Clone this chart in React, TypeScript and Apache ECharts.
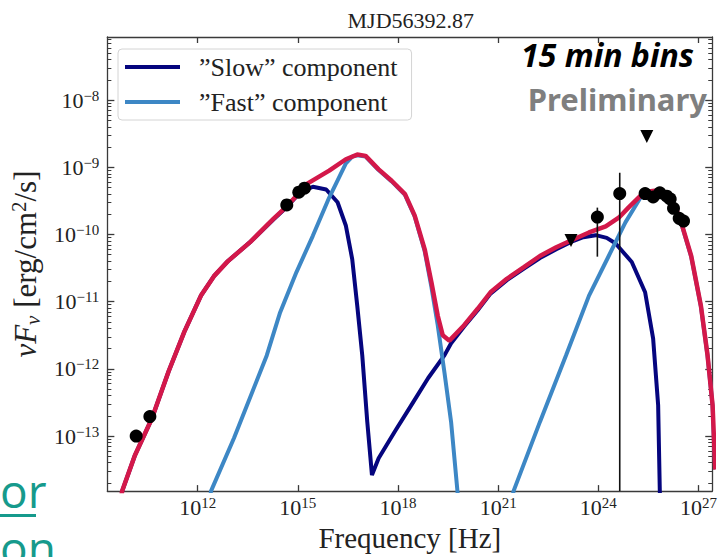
import React, { useEffect, useRef } from 'react';
import * as echarts from 'echarts';

// All values are log10 exponents: [log10(nu / Hz), log10(nuF_nu / erg cm^-2 s^-1)]
const totalSED: number[][] = [
  [9.70, -13.95], [9.74, -13.82], [10.12, -13.29], [10.63, -12.74], [11.13, -12.04],
  [11.60, -11.45], [12.10, -10.91], [12.49, -10.62], [12.90, -10.40], [13.58, -10.11],
  [14.26, -9.77], [14.67, -9.58], [15.06, -9.37], [15.26, -9.25], [15.94, -9.05],
  [16.44, -8.88], [16.78, -8.81], [17.03, -8.83], [17.42, -9.03], [17.81, -9.20],
  [18.21, -9.40], [18.50, -9.72], [18.80, -10.22], [19.00, -10.71], [19.19, -11.21],
  [19.34, -11.50], [19.54, -11.58], [19.98, -11.35], [20.38, -11.11], [20.77, -10.86],
  [21.26, -10.66], [21.76, -10.49], [22.25, -10.32], [22.74, -10.19], [23.18, -10.09],
  [23.72, -9.97], [24.22, -9.88], [24.61, -9.75], [24.90, -9.60], [25.25, -9.43],
  [25.50, -9.36], [25.69, -9.35], [25.90, -9.37], [26.09, -9.43], [26.30, -9.58],
  [26.48, -9.82], [26.78, -10.32], [27.07, -11.06], [27.27, -11.80], [27.42, -12.54],
  [27.50, -13.50],
];

const slowComponent: number[][] = [
  [9.70, -13.95], [9.74, -13.82], [10.12, -13.29], [10.63, -12.74], [11.13, -12.04],
  [11.60, -11.45], [12.10, -10.91], [12.49, -10.62], [12.90, -10.40], [13.58, -10.11],
  [14.26, -9.78], [14.67, -9.59], [15.06, -9.38], [15.45, -9.29], [15.85, -9.33],
  [16.19, -9.52], [16.44, -9.87], [16.63, -10.37], [16.78, -11.06], [16.93, -11.80],
  [17.08, -12.79], [17.22, -13.58], [17.42, -13.33], [17.91, -12.93], [18.40, -12.54],
  [18.90, -12.14], [19.39, -11.80], [19.59, -11.62], [19.98, -11.37], [20.38, -11.13],
  [20.77, -10.88], [21.26, -10.68], [21.76, -10.51], [22.25, -10.35], [22.74, -10.22],
  [23.18, -10.11], [23.55, -10.04], [23.92, -10.01], [24.25, -10.05], [24.51, -10.13],
  [25.00, -10.41], [25.40, -10.86], [25.64, -11.55], [25.79, -12.54], [25.84, -13.82],
  [25.86, -14.20],
];

const fastSynchrotron: number[][] = [
  [12.35, -14.00], [12.40, -13.82], [13.09, -13.03], [14.07, -11.80], [14.47, -11.16],
  [14.96, -10.56], [15.45, -10.02], [15.94, -9.45], [16.44, -8.94], [16.63, -8.84],
  [16.78, -8.82], [17.03, -8.84], [17.42, -9.04], [17.81, -9.21], [18.21, -9.41],
  [18.50, -9.73], [18.80, -10.25], [19.00, -10.78], [19.19, -11.35], [19.39, -12.05],
  [19.59, -12.79], [19.78, -13.82], [19.82, -14.10],
];

const fastCompton: number[][] = [
  [21.40, -14.00], [21.46, -13.82], [22.25, -12.79], [23.03, -11.80], [23.72, -10.91],
  [24.31, -10.32], [24.81, -9.82], [25.25, -9.46], [25.50, -9.37], [25.69, -9.36],
  [25.90, -9.38], [26.09, -9.44], [26.30, -9.59], [26.48, -9.83], [26.78, -10.33],
  [27.07, -11.07], [27.27, -11.81], [27.42, -12.55], [27.50, -13.50],
];

const observedPoints: number[][] = [
  [10.16, -13.00], [10.57, -12.71], [14.67, -9.56], [15.03, -9.37], [15.20, -9.31],
  [23.97, -9.74], [24.64, -9.39], [25.40, -9.39], [25.64, -9.44], [25.84, -9.38],
  [26.05, -9.43], [26.15, -9.47], [26.25, -9.61], [26.42, -9.76], [26.55, -9.80],
];

const upperLimits: number[][] = [
  [23.18, -10.09], [25.45, -8.54],
];

// [log10 nu, upper end, lower end]
const errorBars: number[][] = [
  [23.97, -9.60, -10.33],
  [24.64, -9.08, -14.50],
];

const xTickExps = [12, 15, 18, 21, 24, 27];
const yTickExps = [-13, -12, -11, -10, -9, -8];
const minorMantissas = [2, 3, 4, 5, 6, 7, 8, 9];
const X_RANGE = [9.297, 27.41];
const Y_RANGE = [-13.82, -7.06];

const titleText = 'MJD56392.87';
const slowName = '\u201DSlow\u201D component';
const fastName = '\u201DFast\u201D component';

const SERIF = "'Liberation Serif', 'DejaVu Serif', serif";
const RED = '#d3184a';
const NAVY = '#05057e';
const BLUE = '#3d87c5';
const AXIS = '#3a3a3a';
const TEAL = '#169a8c';

const yMinorTicks: number[] = [];
for (let n = -14; n <= -8; n++) {
  for (const k of minorMantissas) {
    const v = n + Math.log10(k);
    if (v > Y_RANGE[0] && v < Y_RANGE[1]) yMinorTicks.push(v);
  }
}

const tickRich = {
  b: { fontFamily: SERIF, fontSize: 22, color: '#222', lineHeight: 24 },
  s: { fontFamily: SERIF, fontSize: 15, color: '#222', verticalAlign: 'top', lineHeight: 15 },
};

const lineStyle = { color: AXIS, width: 1.3 };

function buildOption() {
  const xCommon = {
    type: 'value', min: X_RANGE[0], max: X_RANGE[1],
    splitLine: { show: false },
    axisLine: { show: true, onZero: false, lineStyle },
  };
  const yCommon = {
    type: 'value', min: Y_RANGE[0], max: Y_RANGE[1],
    splitLine: { show: false },
  };
  return {
    animation: false,
    backgroundColor: '#ffffff',
    grid: { left: 105, right: 3, top: 37, bottom: 64, containLabel: false },
    xAxis: [
      {
        ...xCommon,
        position: 'bottom',
        axisTick: { show: true, inside: true, length: 6, customValues: xTickExps, lineStyle },
        axisLabel: {
          show: true, customValues: xTickExps, margin: 4,
          formatter: (v: number) => `{b|10}{s|${Math.round(v)}}`,
          rich: tickRich,
        },
        name: 'Frequency [Hz]', nameLocation: 'middle', nameGap: 30,
        nameTextStyle: { fontFamily: SERIF, fontSize: 29, color: '#222' },
      },
      {
        ...xCommon,
        position: 'top',
        axisTick: { show: true, inside: true, length: 6, customValues: xTickExps, lineStyle },
        axisLabel: { show: false },
      },
    ],
    yAxis: [
      {
        ...yCommon,
        position: 'left',
        axisLine: { show: true, onZero: false, lineStyle },
        axisTick: { show: true, inside: true, length: 7, customValues: yTickExps, lineStyle },
        axisLabel: {
          show: true, customValues: yTickExps, margin: 8,
          formatter: (v: number) => `{b|10}{s|\u2212${Math.round(-v)}}`,
          rich: tickRich,
        },
        name: '{i|\u03BDF}{sub|\u03BD} {r|[erg/cm}{sup|2}{r|/s]}',
        nameLocation: 'middle', nameGap: 54, nameRotate: 90,
        nameTextStyle: {
          fontFamily: SERIF, fontSize: 31, color: '#222',
          rich: {
            i: { fontFamily: SERIF, fontSize: 31, fontStyle: 'italic', color: '#222', lineHeight: 35 },
            sub: { fontFamily: SERIF, fontSize: 21, fontStyle: 'italic', color: '#222', verticalAlign: 'bottom', lineHeight: 21 },
            r: { fontFamily: SERIF, fontSize: 31, color: '#222', lineHeight: 35 },
            sup: { fontFamily: SERIF, fontSize: 21, color: '#222', verticalAlign: 'top', lineHeight: 21 },
          },
        },
      },
      {
        ...yCommon,
        position: 'left',
        axisLine: { show: false },
        axisTick: { show: true, inside: true, length: 4, customValues: yMinorTicks, lineStyle: { color: AXIS, width: 1 } },
        axisLabel: { show: false },
      },
      {
        ...yCommon,
        position: 'right',
        axisLine: { show: true, onZero: false, lineStyle },
        axisTick: { show: true, inside: true, length: 7, customValues: yTickExps, lineStyle },
        axisLabel: { show: false },
      },
      {
        ...yCommon,
        position: 'right',
        axisLine: { show: false },
        axisTick: { show: true, inside: true, length: 4, customValues: yMinorTicks, lineStyle: { color: AXIS, width: 1 } },
        axisLabel: { show: false },
      },
    ],
    legend: {
      data: [slowName, fastName],
      orient: 'vertical', left: 118, top: 49,
      icon: 'rect', itemWidth: 55, itemHeight: 4, itemGap: 9,
      padding: [5, 14, 5, 7],
      backgroundColor: '#ffffff', borderColor: '#d4d4d4', borderWidth: 1, borderRadius: 4,
      selectedMode: false,
      textStyle: { fontFamily: SERIF, fontSize: 26, color: '#222', padding: [0, 0, 0, 14] },
    },
    graphic: [
      { type: 'text', x: 410.8, y: 20.5, style: { text: titleText, font: `22px ${SERIF}`, fill: '#222', align: 'center', verticalAlign: 'middle', textAlign: 'center', textVerticalAlign: 'middle' } },
      { type: 'text', x: 694, y: 54, style: { text: '15 min bins', font: "italic bold 32px 'Noto Sans', sans-serif", fill: '#000', align: 'right', verticalAlign: 'middle', textAlign: 'right', textVerticalAlign: 'middle' } },
      { type: 'text', x: 707, y: 99, style: { text: 'Preliminary', font: "bold 31px 'Noto Sans', sans-serif", fill: '#7f7f7f', align: 'right', verticalAlign: 'middle', textAlign: 'right', textVerticalAlign: 'middle' } },
      { type: 'text', x: 0, y: 490, style: { text: 'or', font: "46px 'Open Sans', sans-serif", fill: TEAL, align: 'left', verticalAlign: 'middle', textAlign: 'left', textVerticalAlign: 'middle' } },
      { type: 'rect', shape: { x: 0, y: 514, width: 36, height: 3 }, style: { fill: TEAL } },
      { type: 'text', x: 0, y: 547, style: { text: 'on', font: "46px 'Open Sans', sans-serif", fill: TEAL, align: 'left', verticalAlign: 'middle', textAlign: 'left', textVerticalAlign: 'middle' } },
    ],
    series: [
      {
        type: 'line', name: slowName, data: slowComponent, xAxisIndex: 0, yAxisIndex: 0,
        symbol: 'none', showSymbol: false, color: NAVY, lineStyle: { color: NAVY, width: 4 }, z: 2, clip: true,
      },
      {
        type: 'line', name: fastName, data: fastSynchrotron, xAxisIndex: 0, yAxisIndex: 0,
        symbol: 'none', showSymbol: false, color: BLUE, lineStyle: { color: BLUE, width: 4 }, z: 3, clip: true,
      },
      {
        type: 'line', name: fastName, data: fastCompton, xAxisIndex: 0, yAxisIndex: 0,
        symbol: 'none', showSymbol: false, color: BLUE, lineStyle: { color: BLUE, width: 4 }, z: 3, clip: true,
      },
      {
        type: 'line', name: 'Total', data: totalSED, xAxisIndex: 0, yAxisIndex: 0,
        symbol: 'none', showSymbol: false, color: RED, lineStyle: { color: RED, width: 4.5 }, z: 4, clip: true,
      },
      {
        type: 'custom', name: 'errors', data: errorBars, xAxisIndex: 0, yAxisIndex: 0, z: 5, clip: true,
        encode: { x: 0, y: [1, 2] },
        renderItem: (params: any, api: any) => {
          const x = api.value(0);
          const p1 = api.coord([x, api.value(1)]);
          const p2 = api.coord([x, api.value(2)]);
          return {
            type: 'line',
            shape: { x1: p1[0], y1: p1[1], x2: p2[0], y2: p2[1] },
            style: { stroke: '#111', lineWidth: 1.6 },
          };
        },
      },
      {
        type: 'scatter', name: 'points', data: observedPoints, xAxisIndex: 0, yAxisIndex: 0,
        symbol: 'circle', symbolSize: 13, itemStyle: { color: '#000', opacity: 1 }, z: 6,
      },
      {
        type: 'scatter', name: 'limits', data: upperLimits, xAxisIndex: 0, yAxisIndex: 0,
        symbol: 'triangle', symbolRotate: 180, symbolSize: 13, itemStyle: { color: '#000', opacity: 1 }, z: 6,
      },
    ],
  };
}

export default function App() {
  const ref = useRef<HTMLDivElement>(null);
  useEffect(() => {
    if (!ref.current) return;
    const chart = echarts.init(ref.current, null, { renderer: 'svg' });
    chart.setOption(buildOption() as any);
    return () => chart.dispose();
  }, []);
  return (
    <div
      ref={ref}
      style={{ position: 'fixed', left: 0, top: 0, width: 720, height: 557, background: '#fff' }}
    />
  );
}
